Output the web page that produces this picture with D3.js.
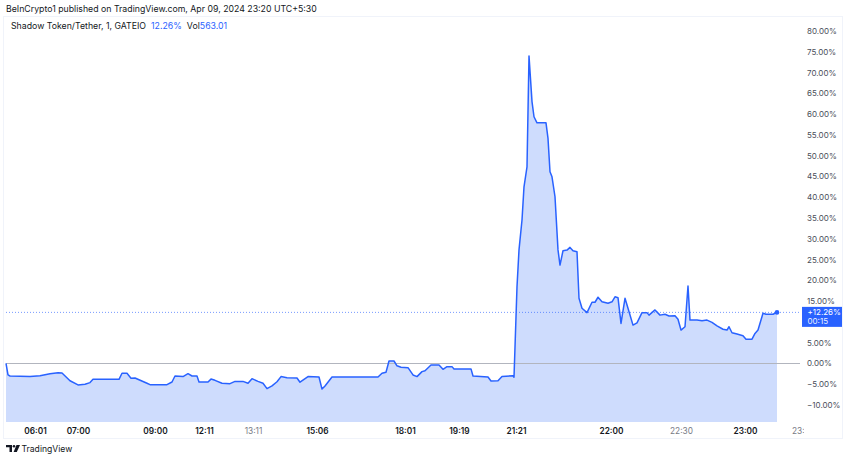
<!DOCTYPE html>
<html>
<head>
<meta charset="utf-8">
<script src="https://cdn.jsdelivr.net/npm/d3@7/dist/d3.min.js"></script>
<style>
  html, body { margin: 0; padding: 0; background: #ffffff; }
  svg { display: block; font-family: Inter, "Noto Sans", sans-serif; }
</style>
</head>
<body>
<svg id="chart" width="850" height="460"></svg>
<script>
// ---- data (bar index along the session, percent change) ----
const bars = [0,2,4,24,34,44,52,56,64,72,79,84,87,113,116,121,125,129,141,144,161,166,169,177,182,186,191,193,202,205,209,216,224,229,237,242,246,252,257,261,266,271,275,281,291,294,302,313,316,319,326,372,376,380,383,388,391,395,402,407,411,416,419,425,433,437,441,446,448,465,467,482,485,492,496,507,508,511,513,516,518,521,523,526,528,531,540,542,544,546,549,552,554,557,561,564,567,571,573,576,581,586,589,592,596,602,606,609,612,615,619,622,627,631,636,641,643,649,654,659,663,669,672,675,679,682,684,691,696,701,706,711,717,721,723,726,731,737,740,746,749,752,757,760,767,771];
const changePct = [0.00,-2.8,-3.05,-3.2,-3.0,-2.5,-2.25,-2.35,-4.2,-5.2,-5.05,-4.65,-3.85,-3.85,-2.4,-2.4,-3.6,-3.55,-4.8,-5.15,-5.15,-4.5,-3.05,-3.2,-2.5,-3.05,-3.05,-4.5,-4.5,-3.8,-4.1,-4.8,-4.9,-4.35,-4.35,-4.8,-3.7,-4.35,-4.8,-6.1,-5.45,-4.45,-3.2,-3.45,-3.55,-4.55,-3.2,-3.3,-6.2,-5.45,-3.3,-3.3,-2.4,-2.15,0.55,0.55,-0.6,-0.95,-1.05,-2.8,-3.2,-2.0,-1.8,-0.4,-0.4,-1.45,-0.8,-0.8,-1.35,-1.35,-3.05,-3.3,-4.25,-4.2,-3.15,-3.0,-3.35,18.45,27.3,34.5,42.5,47.3,74.0,63.0,59.35,57.9,57.9,54.15,46.1,44.9,40.1,27.3,23.65,27.1,27.25,27.9,27.1,26.85,15.65,13.25,12.2,14.7,14.7,15.9,14.8,14.45,14.8,16.0,15.8,9.6,15.65,13.25,9.2,9.75,12.2,12.2,11.6,12.85,11.6,11.8,11.4,11.45,10.6,8.0,8.8,18.6,10.4,10.4,10.25,10.4,9.85,9.0,8.2,8.0,8.8,7.35,7.05,6.65,5.8,5.8,7.2,8.0,12.05,11.8,11.8,12.26];
const yTicks = [-10,-5,0,5,15,20,25,30,35,40,45,50,55,60,65,70,75,80];
const timeLabels = ["06:01","07:00","09:00","12:11","13:11","15:06","18:01","19:19","21:21","22:00","22:30","23:00","23:30"];
const timeBars   = [29,72,149,198,247,311,399,453,510,605,675,739,797];
const timeMajor  = [true,true,true,true,false,true,true,true,true,true,false,true,false];
const lastPct = 12.26;
const lastVol = "563.01";
const countdown = "00:15";

// ---- layout ----
const svg = d3.select("#chart");
const plot = { left: 6, right: 800, top: 17, bottom: 422 };
const x = d3.scaleLinear().domain([0, 794]).range([plot.left, plot.right]);
const y = d3.scaleLinear().domain([-14.13, 83.37]).range([plot.bottom, plot.top]);
const blue = "#2962ff";

// frame
svg.append("rect").attr("x", 3.5).attr("y", 16.5).attr("width", 839).attr("height", 422)
  .attr("fill", "none").attr("stroke", "#f0f3fa").attr("stroke-width", 1);

// header
svg.append("text").attr("x", 6).attr("y", 12).attr("font-size", 8.75).attr("fill", "#131722")
  .text("BeInCrypto1 published on TradingView.com, Apr 09, 2024 23:20 UTC+5:30");
const leg = svg.append("text").attr("x", 11).attr("y", 29).attr("font-size", 8.75).attr("fill", "#131722");
leg.append("tspan").text("Shadow Token/Tether, 1, GATEIO");
leg.append("tspan").attr("dx", 5).attr("fill", blue).text(lastPct.toFixed(2) + "%");
leg.append("tspan").attr("dx", 5).text("Vol");
leg.append("tspan").attr("fill", blue).text(lastVol);

const data = bars.map((b, i) => ({ b, v: changePct[i] }));

// area
svg.append("path").datum(data)
  .attr("d", d3.area().x(d => x(d.b)).y0(plot.bottom).y1(d => y(d.v)))
  .attr("fill", "#cedcfd");

// zero line
svg.append("line").attr("x1", plot.left).attr("x2", plot.right)
  .attr("y1", Math.round(y(0)) + 0.5).attr("y2", Math.round(y(0)) + 0.5)
  .attr("stroke", "#b2b5be").attr("stroke-width", 1);

// last value dotted line
svg.append("line").attr("x1", plot.left).attr("x2", plot.right)
  .attr("y1", y(lastPct)).attr("y2", y(lastPct))
  .attr("stroke", blue).attr("stroke-width", 0.8).attr("stroke-dasharray", "1,2").attr("opacity", 0.8);

// line
svg.append("path").datum(data)
  .attr("d", d3.line().x(d => x(d.b)).y(d => y(d.v)))
  .attr("fill", "none").attr("stroke", blue).attr("stroke-width", 1.5).attr("stroke-linejoin", "round");

// last point marker
const last = data[data.length - 1];
svg.append("circle").attr("cx", x(last.b)).attr("cy", y(last.v)).attr("r", 2.3).attr("fill", blue);

// right axis
const yAxis = d3.axisRight(y).tickValues(yTicks).tickSize(0).tickPadding(0)
  .tickFormat(d => (d < 0 ? "\u2212" + Math.abs(d).toFixed(2) : d.toFixed(2)) + "%");
const ya = svg.append("g").attr("transform", `translate(807,0)`).call(yAxis);
ya.select(".domain").remove();
ya.selectAll("text").attr("font-size", 8).attr("fill", "#4a4e59").attr("font-family", "Inter, sans-serif");

// price label
const py = y(lastPct);
svg.append("rect").attr("x", 802).attr("y", py - 5.5).attr("width", 40).attr("height", 20).attr("fill", blue);
svg.append("text").attr("x", 807.5).attr("y", py + 3).attr("font-size", 8).attr("fill", "#fff")
  .text("+" + lastPct.toFixed(2) + "%");
svg.append("text").attr("x", 807.5).attr("y", py + 11.5).attr("font-size", 8).attr("fill", "#fff")
  .attr("opacity", 0.9).text(countdown);

// bottom axis
const xa = svg.append("g").attr("transform", `translate(0,428)`);
xa.append("clipPath").attr("id", "xclip")
  .append("rect").attr("x", 0).attr("y", -4).attr("width", 804).attr("height", 20);
const xAxis = d3.axisBottom(x).tickValues(timeBars).tickSize(0).tickPadding(0)
  .tickFormat((d, i) => timeLabels[i]);
const xinner = xa.append("g").attr("clip-path", "url(#xclip)").call(xAxis);
xinner.select(".domain").remove();
xinner.selectAll("text").attr("font-size", 8.3).attr("font-family", "Inter, sans-serif")
  .attr("font-weight", (d, i) => timeMajor[i] ? 600 : 400)
  .attr("fill", (d, i) => timeMajor[i] ? "#131722" : "#787b86");

// TradingView watermark
const wm = svg.append("g").attr("transform", "translate(6,445)");
wm.append("path").attr("d", "M0 0 H6 V7 H3.5 V2.2 H0 Z").attr("fill", "#131722");
wm.append("circle").attr("cx", 8).attr("cy", 1.3).attr("r", 1.3).attr("fill", "#131722");
wm.append("path").attr("d", "M10.5 0 H14 L10.8 7 H7.6 Z").attr("fill", "#131722");
svg.append("text").attr("x", 21.5).attr("y", 452).attr("font-size", 8.6).attr("fill", "#131722").text("TradingView");
</script>
</body>
</html>
